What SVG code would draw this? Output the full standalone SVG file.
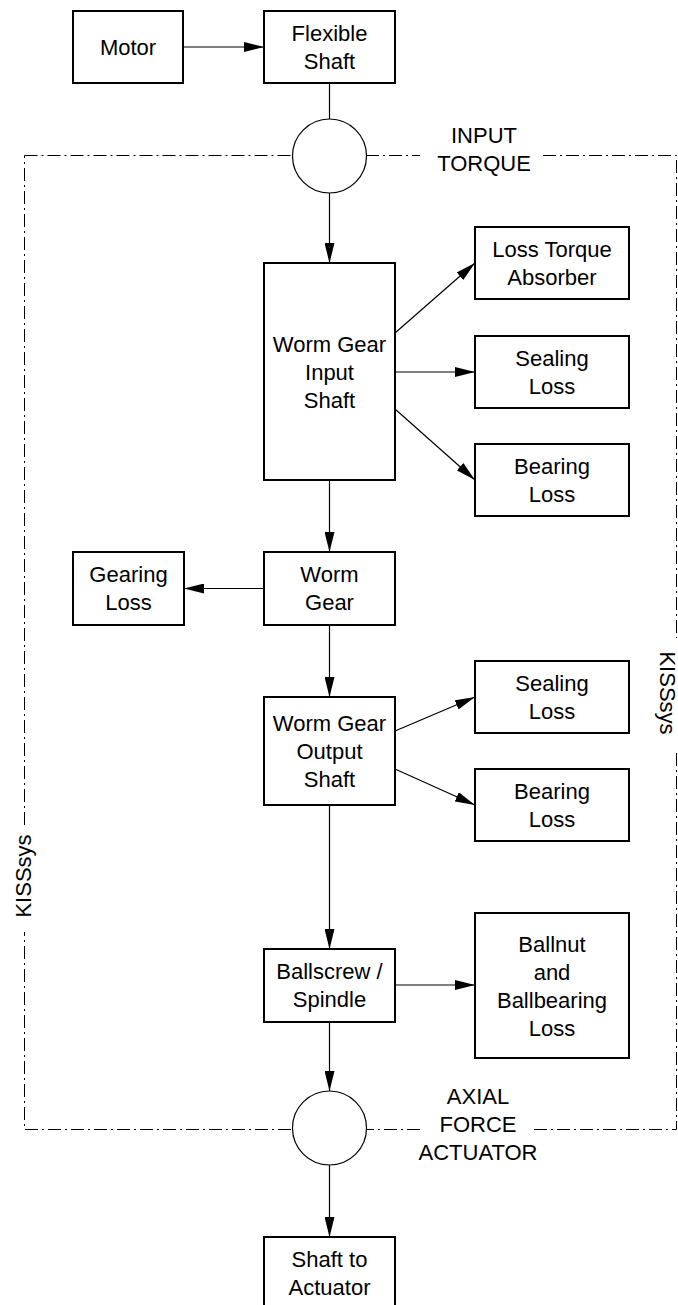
<svg xmlns="http://www.w3.org/2000/svg" width="678" height="1305" viewBox="0 0 678 1305">
<style>
.box{fill:#fff;stroke:#000;stroke-width:2}
.c{fill:#fff;stroke:#000;stroke-width:1.2}
.ln{fill:none;stroke:#000;stroke-width:1.2}
.bd{fill:none;stroke:#000;stroke-width:1;stroke-dasharray:13 4 2 4}
text{font-family:"Liberation Sans",Arial,sans-serif;font-size:22px;fill:#000;text-anchor:middle}
</style>
<defs>
<marker id="ah" markerUnits="userSpaceOnUse" markerWidth="20" markerHeight="10" refX="20" refY="5" orient="auto">
<path d="M0,0 L20,5 L0,10 z" fill="#000"/>
</marker>
</defs>
<g id="border">
<path class="bd" d="M24.5,155.5 H291 M366,155.5 H420 M543,155.5 H676.5 V638 M676.5,753 V1129.5 H533 M420,1129.5 H366 M291,1129.5 H24.5 V932 M24.5,825 V155.5"/>
<text transform="translate(660,693) rotate(90)">KISSsys</text>
<text transform="translate(31,876) rotate(-90)">KISSsys</text>
</g>
<g id="connectors">
<line class="ln" x1="183" y1="47" x2="264" y2="47" marker-end="url(#ah)"/>
<line class="ln" x1="329.5" y1="83" x2="329.5" y2="119"/>
<line class="ln" x1="329.5" y1="193" x2="329.5" y2="263" marker-end="url(#ah)"/>
<line class="ln" x1="395" y1="333" x2="475" y2="263" marker-end="url(#ah)"/>
<line class="ln" x1="395" y1="372" x2="475" y2="372" marker-end="url(#ah)"/>
<line class="ln" x1="395" y1="409" x2="475" y2="480" marker-end="url(#ah)"/>
<line class="ln" x1="329.5" y1="480" x2="329.5" y2="552" marker-end="url(#ah)"/>
<line class="ln" x1="264" y1="588.5" x2="184" y2="588.5" marker-end="url(#ah)"/>
<line class="ln" x1="329.5" y1="625" x2="329.5" y2="697" marker-end="url(#ah)"/>
<line class="ln" x1="395" y1="731" x2="475" y2="697" marker-end="url(#ah)"/>
<line class="ln" x1="395" y1="769" x2="475" y2="805" marker-end="url(#ah)"/>
<line class="ln" x1="329.5" y1="805" x2="329.5" y2="949" marker-end="url(#ah)"/>
<line class="ln" x1="395" y1="985" x2="475" y2="985" marker-end="url(#ah)"/>
<line class="ln" x1="329.5" y1="1022" x2="329.5" y2="1091" marker-end="url(#ah)"/>
<line class="ln" x1="329.5" y1="1165" x2="329.5" y2="1237" marker-end="url(#ah)"/>
</g>
<g id="motor"><rect class="box" x="73" y="11" width="110" height="72"/><text x="128" y="55">Motor</text></g>
<g id="flexible-shaft"><rect class="box" x="264" y="11" width="131" height="72"/><text x="329.5" y="41">Flexible</text><text x="329.5" y="69">Shaft</text></g>
<g id="input-torque"><circle class="c" cx="329.5" cy="156" r="37"/><text x="484" y="143">INPUT</text><text x="484" y="171">TORQUE</text></g>
<g id="wg-input-shaft"><rect class="box" x="264" y="263" width="131" height="217"/><text x="329.5" y="351.5">Worm Gear</text><text x="329.5" y="379.5">Input</text><text x="329.5" y="407.5">Shaft</text></g>
<g id="loss-torque-absorber"><rect class="box" x="475" y="227" width="154" height="72"/><text x="552" y="257">Loss Torque</text><text x="552" y="285">Absorber</text></g>
<g id="sealing-loss-1"><rect class="box" x="475" y="336" width="154" height="72"/><text x="552" y="366">Sealing</text><text x="552" y="394">Loss</text></g>
<g id="bearing-loss-1"><rect class="box" x="475" y="444" width="154" height="72"/><text x="552" y="474">Bearing</text><text x="552" y="502">Loss</text></g>
<g id="worm-gear"><rect class="box" x="264" y="552" width="131" height="73"/><text x="329.5" y="582">Worm</text><text x="329.5" y="610">Gear</text></g>
<g id="gearing-loss"><rect class="box" x="73" y="552" width="111" height="73"/><text x="128.5" y="582">Gearing</text><text x="128.5" y="610">Loss</text></g>
<g id="wg-output-shaft"><rect class="box" x="264" y="697" width="131" height="108"/><text x="329.5" y="731">Worm Gear</text><text x="329.5" y="759">Output</text><text x="329.5" y="787">Shaft</text></g>
<g id="sealing-loss-2"><rect class="box" x="475" y="661" width="154" height="72"/><text x="552" y="691">Sealing</text><text x="552" y="719">Loss</text></g>
<g id="bearing-loss-2"><rect class="box" x="475" y="769" width="154" height="72"/><text x="552" y="799">Bearing</text><text x="552" y="827">Loss</text></g>
<g id="ballscrew"><rect class="box" x="264" y="949" width="131" height="73"/><text x="329.5" y="979">Ballscrew /</text><text x="329.5" y="1007">Spindle</text></g>
<g id="ballnut"><rect class="box" x="475" y="913" width="154" height="145"/><text x="552" y="951.5">Ballnut</text><text x="552" y="979.5">and</text><text x="552" y="1007.5">Ballbearing</text><text x="552" y="1035.5">Loss</text></g>
<g id="axial-force"><circle class="c" cx="329.5" cy="1128" r="37"/><text x="478" y="1104">AXIAL</text><text x="478" y="1132">FORCE</text><text x="478" y="1160">ACTUATOR</text></g>
<g id="shaft-to-actuator"><rect class="box" x="264" y="1237" width="131" height="75"/><text x="329.5" y="1267">Shaft to</text><text x="329.5" y="1295">Actuator</text></g>
</svg>
